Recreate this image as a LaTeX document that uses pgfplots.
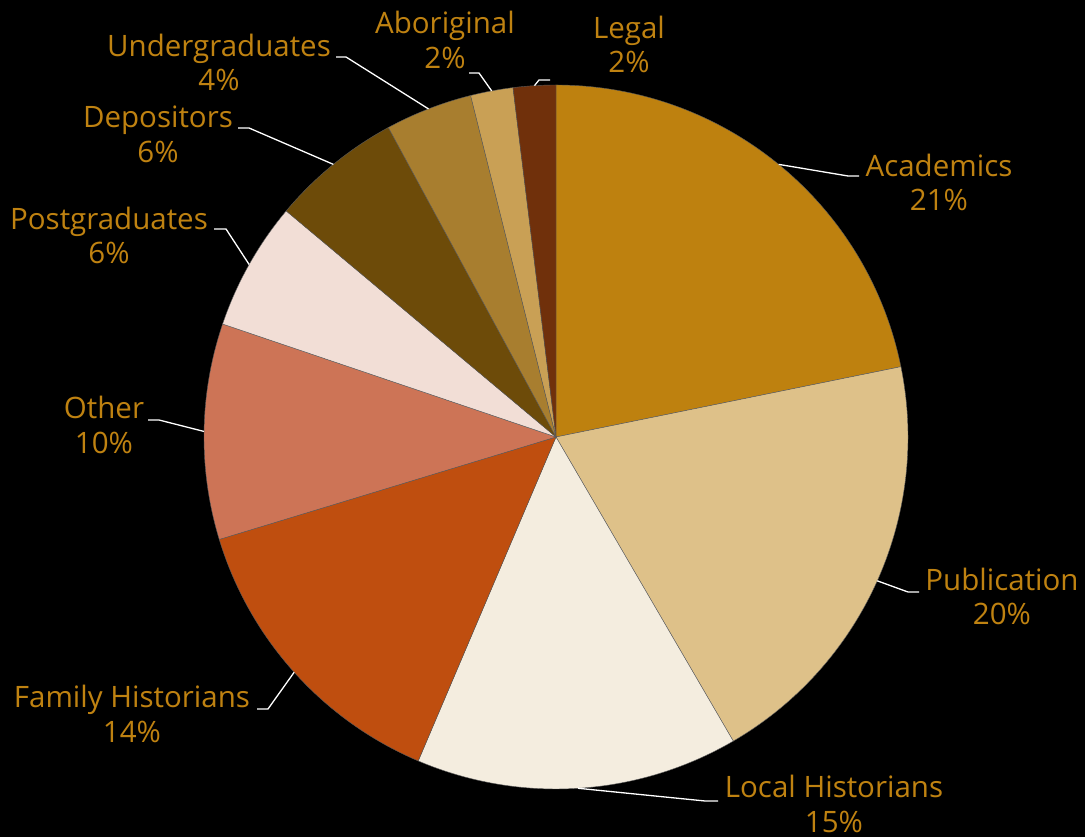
\documentclass[border=0pt]{standalone}
\usepackage{pgfplots}
\pgfplotsset{compat=1.18}
\usepackage{fontspec}
\setmainfont{Open Sans}
\definecolor{cAcad}{HTML}{BE810F}
\definecolor{cPub}{HTML}{DEC189}
\definecolor{cLoc}{HTML}{F4EDDF}
\definecolor{cFam}{HTML}{BF4E0F}
\definecolor{cOth}{HTML}{CD7456}
\definecolor{cPost}{HTML}{F2DED6}
\definecolor{cDep}{HTML}{6D4B09}
\definecolor{cUnd}{HTML}{A87E2F}
\definecolor{cAbo}{HTML}{C9A055}
\definecolor{cLeg}{HTML}{70300B}
\definecolor{labcol}{HTML}{BF8211}
\definecolor{sliceline}{HTML}{5A5A5A}
\newcommand\labfont{\fontsize{29.5}{34.5}\selectfont}
% value / colour / elbow x / elbow y / leader end x / label x / label y / name / percent
\def\pielist{21.8/cAcad/848/661/859/939/654.5/Academics/21,
 19.8/cPub/908/245/919/1002/240.5/Publication/20,
 14.8/cLoc/705/36/718/834/33/Local Historians/15,
 13.9/cFam/268/128/257/132/123/Family Historians/14,
 9.9/cOth/159/417/148/104/412/Other/10,
 5.9/cPost/226/608/214/109/601.5/Postgraduates/6,
 6.0/cDep/249/709/238/158/702.5/Depositors/6,
 4.0/cUnd/346/780/336/219/774.5/Undergraduates/4,
 1.95/cAbo/479/764/469/445/797/Aboriginal/2,
 1.95/cLeg/539/757/550/629/792.5/Legal/2}
\begin{document}
\begin{tikzpicture}
\begin{axis}[x=1pt,y=1pt,xmin=0,xmax=1085,ymin=0,ymax=837,hide axis,clip=false]
\fill[black] (axis cs:0,0) rectangle (axis cs:1085,837);
\gdef\cur{90}
\foreach \val/\col/\exx/\eyy/\hxx/\txx/\tyy/\nm/\pc in \pielist {
 \pgfmathsetmacro\eang{\cur-3.6*\val}
 \edef\temp{%
  \noexpand\fill[\col,draw=sliceline,line width=0.4pt] (axis cs:556,400) -- ++(\cur:352pt) arc[start angle=\cur,end angle=\eang,radius=352pt] -- cycle;
 }\temp
 \xdef\cur{\eang}
}
\gdef\cur{90}
\foreach \val/\col/\exx/\eyy/\hxx/\txx/\tyy/\nm/\pc in \pielist {
 \pgfmathsetmacro\eang{\cur-3.6*\val}
 \pgfmathsetmacro\mang{(\cur+\eang)/2}
 \edef\temp{%
  \noexpand\draw[white,line width=1.3pt] (axis cs:556,400) ++(\mang:352pt) -- (axis cs:\exx,\eyy) -- (axis cs:\hxx,\eyy);
  \noexpand\node[font=\noexpand\labfont,text=labcol,align=center,inner sep=0pt] at (axis cs:\txx,\tyy) {\nm\noexpand\\\pc\noexpand\%};
 }\temp
 \xdef\cur{\eang}
}
\end{axis}
\end{tikzpicture}
\end{document}
